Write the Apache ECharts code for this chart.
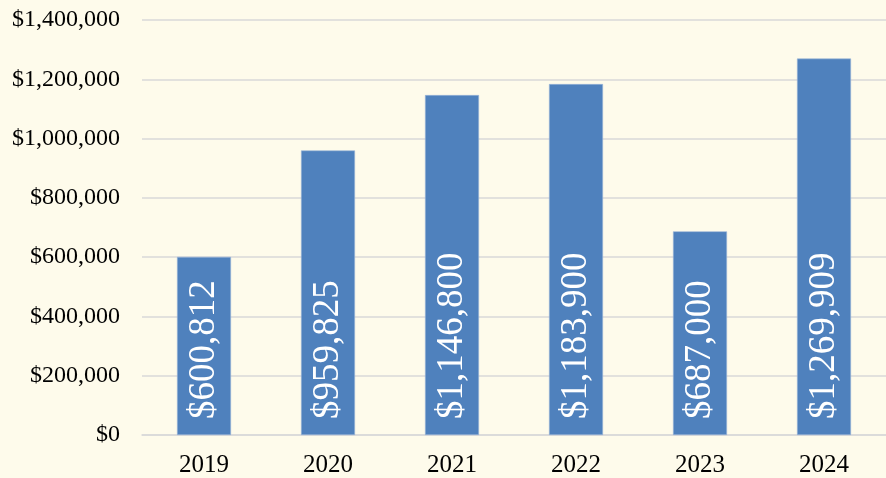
<!DOCTYPE html>
<html>
<head>
<meta charset="utf-8">
<script src="https://cdn.jsdelivr.net/npm/echarts@6/dist/echarts.min.js"></script>
<style>
  html, body { margin: 0; padding: 0; background: #FEFBEB; }
  #chart { width: 886px; height: 478px; }
</style>
</head>
<body>
<div id="chart"></div>
<script>
// Yearly totals
const years = ['2019', '2020', '2021', '2022', '2023', '2024'];
const totals = [600812, 959825, 1146800, 1183900, 687000, 1269909];

const money = v => '$' + Math.round(v).toLocaleString('en-US');
const serif = '"Liberation Serif", "DejaVu Serif", serif';

const chart = echarts.init(document.getElementById('chart'));
chart.setOption({
  backgroundColor: '#FEFBEB',
  animation: false,
  grid: { left: 142, right: -6, top: 20, bottom: 43 },
  xAxis: {
    type: 'category',
    data: years,
    axisLine: { lineStyle: { color: '#d9d9d9', width: 1.5 } },
    axisTick: { show: false },
    axisLabel: { color: '#000', fontFamily: serif, fontSize: 25, margin: 18 }
  },
  yAxis: {
    type: 'value',
    min: 0,
    max: 1400000,
    interval: 200000,
    axisLine: { show: false },
    axisTick: { show: false },
    splitLine: { lineStyle: { color: '#d9d9d9', width: 1.5 } },
    axisLabel: { color: '#000', fontFamily: serif, fontSize: 24, margin: 22, formatter: money }
  },
  series: [{
    type: 'bar',
    data: totals,
    barWidth: 54,
    itemStyle: { color: '#4F81BD', borderColor: '#9bb6d8', borderWidth: 0.6 },
    label: {
      show: true,
      position: 'insideBottom',
      rotate: 90,
      align: 'left',
      verticalAlign: 'middle',
      distance: 16,
      color: '#fff',
      fontFamily: serif,
      fontSize: 37,
      formatter: p => money(p.value)
    }
  }]
});
</script>
</body>
</html>
